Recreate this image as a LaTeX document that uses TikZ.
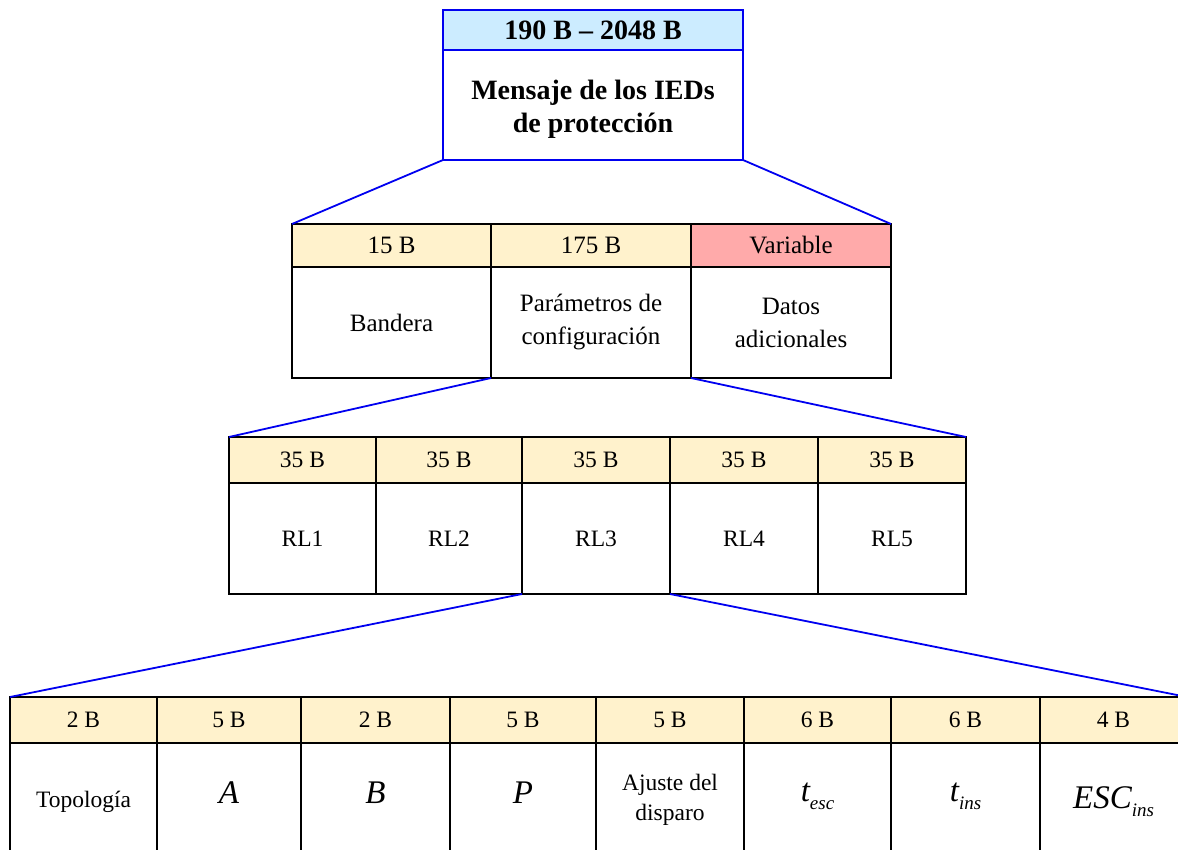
\documentclass[tikz,border=0pt]{standalone}
\usepackage{fontspec}
\usepackage{graphicx}
\setmainfont{Liberation Serif}
\usetikzlibrary{calc}

\definecolor{hdrYellow}{HTML}{FFF2CC}
\definecolor{hdrPink}{HTML}{FFAAAA}
\definecolor{hdrBlue}{HTML}{CCECFF}
\definecolor{linkBlue}{HTML}{0000F0}

% font sizes per level
\newcommand\fTop{\fontsize{28}{33}\selectfont\bfseries}
\newcommand\fTwo{\fontsize{25}{33}\selectfont}
\newcommand\fThree{\fontsize{23.5}{28}\selectfont}
\newcommand\fFour{\fontsize{23.5}{30}\selectfont}
% italic variable with optional subscript
\newcommand\ivar[2]{{\fontsize{33}{36}\selectfont\itshape #1}\raisebox{-8pt}{\fontsize{19}{22}\selectfont\itshape #2}}

\tikzset{
  cell/.style={rectangle, draw=black, line width=1.8pt, inner sep=0pt, outer sep=0pt,
               anchor=north west, align=center},
  hdr/.style={cell, fill=hdrYellow},
  body/.style={cell, fill=white},
  topcell/.style={cell, draw=linkBlue, minimum width=300pt, font=\fTop},
  link/.style={draw=linkBlue, line width=1.8pt},
  lab/.style={inner sep=0pt, align=center},
}

\begin{document}
\begin{tikzpicture}[x=1pt, y=-1pt]
\clip (0,0) rectangle (1178,850);
\fill[white] (0,0) rectangle (1178,850);

% ---- message ----
\node[topcell, fill=hdrBlue, minimum height=40pt] (th) at (443,10) {190 B -- 2048 B};
\node[topcell, fill=white, minimum height=110pt] (tb) at (443,50) {};
\node[lab, font=\fTop] (tbt) at ($(tb.center)+(0,4)$) {Mensaje de los IEDs\\de protección};

% ---- level 2 ----
\tikzset{ltwoh/.style={hdr, minimum height=43pt, font=\fTwo},
         ltwob/.style={body, minimum height=111pt, font=\fTwo}}
\node[ltwoh, minimum width=199pt] (h2a) at (292,224) {15 B};
\node[ltwoh, minimum width=200pt] (h2b) at (491,224) {175 B};
\node[ltwoh, minimum width=200pt, fill=hdrPink] (h2c) at (691,224) {Variable};
\node[ltwob, minimum width=199pt] (b2a) at (292,267) {Bandera};
\node[ltwob, minimum width=200pt] (b2b) at (491,267) {Parámetros de\\configuración};
\node[ltwob, minimum width=200pt] (b2c) at (691,267) {Datos\\adicionales};

% ---- level 3 ----
\tikzset{lthreeh/.style={hdr, minimum height=46pt, font=\fThree},
         lthreeb/.style={body, minimum height=111pt, font=\fThree}}
\node[lthreeh, minimum width=147pt] (h3a) at (229,437) {35 B};
\node[lthreeh, minimum width=146pt] (h3b) at (376,437) {35 B};
\node[lthreeh, minimum width=148pt] (h3c) at (522,437) {35 B};
\node[lthreeh, minimum width=148pt] (h3d) at (670,437) {35 B};
\node[lthreeh, minimum width=148pt] (h3e) at (818,437) {35 B};
\node[lthreeb, minimum width=147pt] (b3a) at (229,483) {RL1};
\node[lthreeb, minimum width=146pt] (b3b) at (376,483) {RL2};
\node[lthreeb, minimum width=148pt] (b3c) at (522,483) {RL3};
\node[lthreeb, minimum width=148pt] (b3d) at (670,483) {RL4};
\node[lthreeb, minimum width=148pt] (b3e) at (818,483) {RL5};

% ---- level 4 ----
\tikzset{lfourh/.style={hdr, minimum height=46pt, font=\fFour},
         lfourb/.style={body, minimum height=114pt}}
\node[lfourh, minimum width=147pt] (h4a) at (10,697) {2 B};
\node[lfourh, minimum width=144pt] (h4b) at (157,697) {5 B};
\node[lfourh, minimum width=149pt] (h4c) at (301,697) {2 B};
\node[lfourh, minimum width=146pt] (h4d) at (450,697) {5 B};
\node[lfourh, minimum width=148pt] (h4e) at (596,697) {5 B};
\node[lfourh, minimum width=147pt] (h4f) at (744,697) {6 B};
\node[lfourh, minimum width=149pt] (h4g) at (891,697) {6 B};
\node[lfourh, minimum width=147pt] (h4h) at (1040,697) {4 B};
\node[lfourb, minimum width=147pt] (b4a) at (10,743) {};
\node[lfourb, minimum width=144pt] (b4b) at (157,743) {};
\node[lfourb, minimum width=149pt] (b4c) at (301,743) {};
\node[lfourb, minimum width=146pt] (b4d) at (450,743) {};
\node[lfourb, minimum width=148pt] (b4e) at (596,743) {};
\node[lfourb, minimum width=147pt] (b4f) at (744,743) {};
\node[lfourb, minimum width=149pt] (b4g) at (891,743) {};
\node[lfourb, minimum width=147pt] (b4h) at (1040,743) {};

\node[lab, anchor=base, font=\fFour] (t4a) at ($(b4a.center)+(0,7)$) {Topología};
\node[lab, anchor=base] (t4b) at ($(b4b.center)+(0,3)$) {\ivar{A}{}};
\node[lab, anchor=base] (t4c) at ($(b4c.center)+(0,3)$) {\ivar{B}{}};
\node[lab, anchor=base] (t4d) at ($(b4d.center)+(0,3)$) {\ivar{P}{}};
\node[lab, font=\fFour] (t4e) at (b4e.center) {Ajuste del\\disparo};
\node[lab, anchor=base] (t4f) at ($(b4f.center)+(0,1)$) {\ivar{t}{esc}};
\node[lab, anchor=base] (t4g) at ($(b4g.center)+(0,1)$) {\ivar{t}{ins}};
\node[lab, anchor=base] (t4h) at ($(b4h.center)+(0,8)$) {\ivar{ESC}{ins}};

% ---- expansion connectors ----
\draw[link] (tb.south west) -- (h2a.north west);
\draw[link] (tb.south east) -- (h2c.north east);
\draw[link] (b2b.south west) -- (h3a.north west);
\draw[link] (b2b.south east) -- (h3e.north east);
\draw[link] (b3c.south west) -- (h4a.north west);
\draw[link] (b3c.south east) -- (h4h.north east);
\end{tikzpicture}
\end{document}
